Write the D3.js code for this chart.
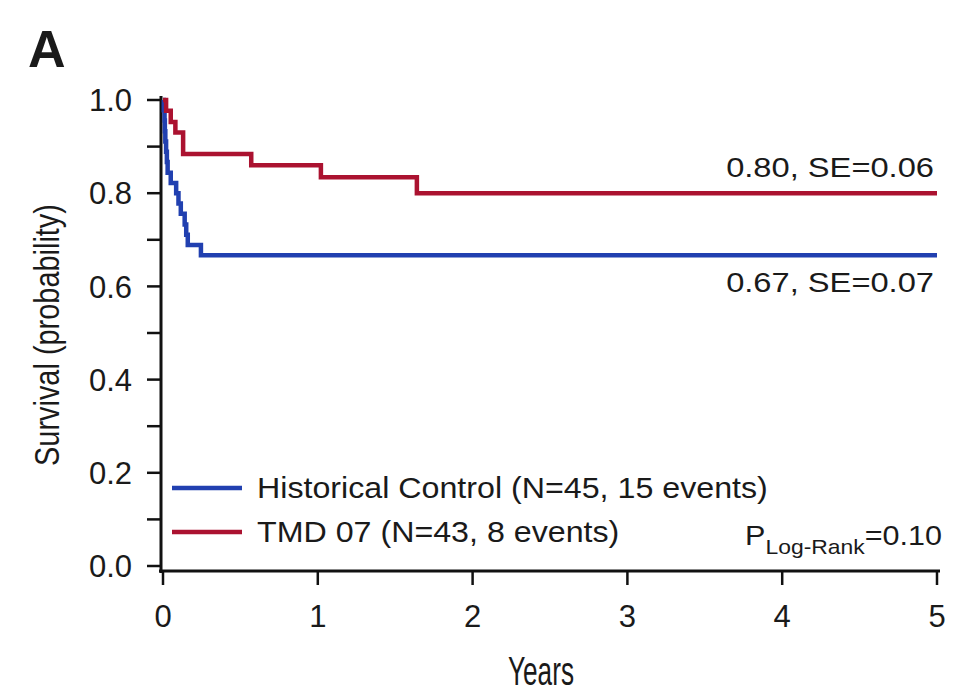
<!DOCTYPE html>
<html>
<head>
<meta charset="utf-8">
<script src="https://cdn.jsdelivr.net/npm/d3@7"></script>
<style>
  body { margin: 0; background: #fff; }
  text { font-family: "Liberation Sans", Arial, sans-serif; fill: #1a1a1a; }
</style>
</head>
<body>
<div id="chart"></div>
<script>
// Kaplan-Meier steps: [years, survival]
var controlSteps = [[0, 1], [0.005, 0.978], [0.01, 0.956], [0.012, 0.933], [0.015, 0.911],
  [0.02, 0.889], [0.025, 0.867], [0.03, 0.844], [0.05, 0.822], [0.085, 0.800],
  [0.10, 0.778], [0.115, 0.756], [0.14, 0.733], [0.15, 0.711], [0.16, 0.689],
  [0.245, 0.667], [5, 0.667]];
var tmdSteps = [[0, 1], [0.02, 0.977], [0.05, 0.953], [0.08, 0.930], [0.13, 0.884],
  [0.57, 0.860], [1.02, 0.834], [1.64, 0.80], [5, 0.80]];
var xTicks = [0, 1, 2, 3, 4, 5];
var yTicks = [0, 0.2, 0.4, 0.6, 0.8, 1.0];
var yMinor = [0.1, 0.3, 0.5, 0.7, 0.9];
var legendLabels = ["Historical Control (N=45, 15 events)", "TMD 07 (N=43, 8 events)"];
var endLabels = ["0.67, SE=0.07", "0.80, SE=0.06"];
var colors = ["#2140b0", "#ab1230"];

var W = 961, H = 698;
var svg = d3.select("#chart").append("svg").attr("width", W).attr("height", H);

var x = d3.scaleLinear().domain([0, 5]).range([163, 937]);
var y = d3.scaleLinear().domain([0, 1]).range([566, 100]);

// horizontal stretch factor so a text fills a given width
function squeeze(sel, w) {
  return w / sel.node().getComputedTextLength();
}

// panel letter
svg.append("text").attr("x", 28).attr("y", 67)
  .style("font-size", "52px").style("font-weight", "900").text("A");

// y axis
var yAxis = svg.append("g").attr("transform", "translate(161,0)");
yAxis.append("line").attr("x1", 0).attr("x2", 0).attr("y1", 96).attr("y2", 573)
  .attr("stroke", "#111").attr("stroke-width", 3);
yAxis.selectAll(".major").data(yTicks.concat(yMinor)).enter().append("line")
  .attr("x1", -14).attr("x2", 0).attr("y1", function(d) { return y(d); }).attr("y2", function(d) { return y(d); })
  .attr("stroke", "#111").attr("stroke-width", 2.5);
yAxis.selectAll("text").data(yTicks).enter().append("text")
  .attr("x", -29).attr("y", function(d) { return y(d); }).attr("dy", "0.36em")
  .attr("text-anchor", "end").style("font-size", "31px")
  .text(function(d) { return d3.format(".1f")(d); });

// x axis
var xAxis = svg.append("g").attr("transform", "translate(0,571)");
xAxis.append("line").attr("x1", 159).attr("x2", 940).attr("y1", 0).attr("y2", 0)
  .attr("stroke", "#111").attr("stroke-width", 3);
xAxis.selectAll(".tick").data(xTicks).enter().append("line")
  .attr("x1", function(d) { return x(d); }).attr("x2", function(d) { return x(d); })
  .attr("y1", 0).attr("y2", 14).attr("stroke", "#111").attr("stroke-width", 2.5);
xAxis.selectAll("text").data(xTicks).enter().append("text")
  .attr("x", function(d) { return x(d); }).attr("y", 45).attr("dy", "0.36em")
  .attr("text-anchor", "middle").style("font-size", "31px").text(function(d) { return d; });

// axis titles (condensed)
var yt = svg.append("text").attr("text-anchor", "middle").style("font-size", "36px").text("Survival (probability)");
yt.attr("transform", "translate(59,335) rotate(-90) scale(" + squeeze(yt, 262) + ",1)");
var xt = svg.append("text").attr("text-anchor", "middle").style("font-size", "41px").text("Years");
xt.attr("transform", "translate(541,685) scale(" + squeeze(xt, 66) + ",1)");

// curves
var line = d3.line().x(function(d) { return x(d[0]); }).y(function(d) { return y(d[1]); })
  .curve(d3.curveStepAfter);
svg.selectAll(".km").data([controlSteps, tmdSteps]).enter().append("path")
  .attr("d", line).attr("fill", "none")
  .attr("stroke", function(d, i) { return colors[i]; }).attr("stroke-width", 4.5);

// end labels
svg.selectAll(".end").data(endLabels).enter().append("text")
  .attr("text-anchor", "end").style("font-size", "28px")
  .text(function(d) { return d; })
  .each(function(d, i) {
    var t = d3.select(this);
    t.attr("transform", "translate(934," + (i == 0 ? 292 : 177) + ") scale(" + squeeze(t, 208) + ",1)");
  });

// legend
var leg = svg.selectAll(".leg").data(legendLabels).enter().append("g")
  .attr("transform", function(d, i) { return "translate(172," + (488 + i * 44) + ")"; });
leg.append("line").attr("x1", 0).attr("x2", 70).attr("stroke-width", 4.5)
  .attr("stroke", function(d, i) { return colors[i]; });
var legText = leg.append("text").style("font-size", "30px").text(function(d) { return d; });
var legScale = squeeze(legText.filter(function(d, i) { return i == 0; }), 511);
legText.attr("transform", "translate(85,10) scale(" + legScale + ",1)");

// p value
var p = svg.append("text").attr("text-anchor", "end").style("font-size", "28px");
p.append("tspan").text("P");
p.append("tspan").attr("dy", 9).style("font-size", "21px").text("Log-Rank");
p.append("tspan").attr("dy", -9).text("=0.10");
p.attr("transform", "translate(942,545) scale(" + squeeze(p, 197) + ",1)");
</script>
</body>
</html>
